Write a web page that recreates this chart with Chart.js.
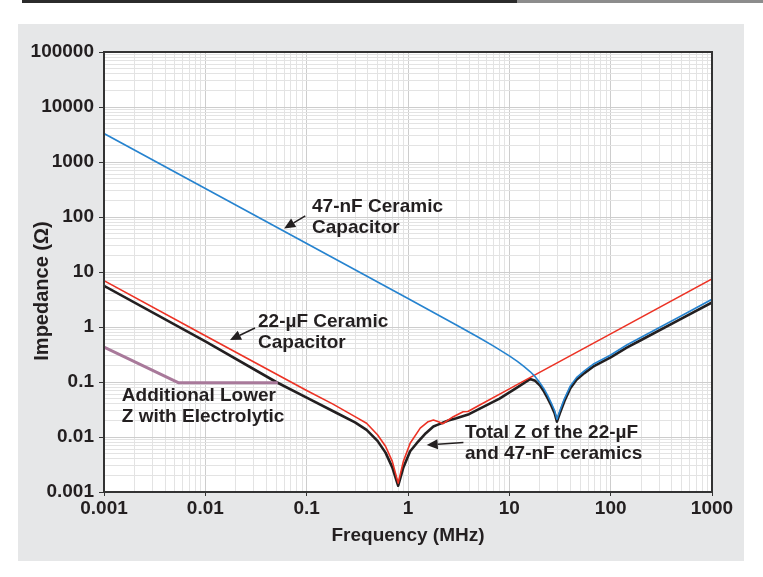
<!DOCTYPE html>
<html><head><meta charset="utf-8">
<script src="https://cdn.jsdelivr.net/npm/chart.js@4"></script>
<style>
html,body{margin:0;padding:0;background:#fff;width:763px;height:577px;overflow:hidden;font-family:"Liberation Sans",Arial,sans-serif}
#bar1{position:absolute;left:22px;top:0;width:495px;height:3px;background:#2b2b2b}
#bar2{position:absolute;left:517px;top:0;width:246px;height:3px;background:#8c8c8c}
#panel{position:absolute;left:18px;top:24px;width:726px;height:537px;background:#e6e7e8}
</style></head><body>
<div id="bar1"></div><div id="bar2"></div>
<div id="panel"><canvas id="c" width="726" height="537"></canvas></div>
<script>
// ---- data ----
const xTickLabels = ['0.001','0.01','0.1','1','10','100','1000'];
const yTickLabels = ['0.001','0.01','0.1','1','10','100','1000','10000','100000'];
const xTitle = 'Frequency (MHz)';
const yTitle = 'Impedance (\u03a9)';

const freq47nF = [0.001, 0.01, 0.1, 1, 3, 5, 7, 10, 12, 14, 16, 18, 20, 22, 24, 26, 28, 29.5, 31.5, 35, 40, 46, 55, 67, 100, 144, 200, 500, 1000];
const z47nF    = [3300, 330, 33, 3.3, 1.09, 0.645, 0.449, 0.298, 0.237, 0.19, 0.155, 0.125, 0.097, 0.075, 0.056, 0.041, 0.03, 0.021, 0.03, 0.05, 0.085, 0.12, 0.16, 0.21, 0.31, 0.47, 0.65, 1.6, 3.2];

const freq22uF = [0.001, 0.01, 0.1, 0.18, 0.3, 0.39, 0.5, 0.6, 0.7, 0.8, 0.9, 1.05, 1.32, 1.58, 1.78, 2.0, 2.2, 2.8, 3.5, 3.9, 5, 10, 17, 100, 1000];
const z22uF    = [6.95, 0.695, 0.07, 0.04, 0.0235, 0.0178, 0.011, 0.0068, 0.0036, 0.00145, 0.0036, 0.0077, 0.0145, 0.019, 0.0204, 0.019, 0.0174, 0.0234, 0.0288, 0.029, 0.0375, 0.075, 0.128, 0.75, 7.5];

const freqTotal = [0.001, 0.01, 0.05, 0.1, 0.2, 0.3, 0.39, 0.5, 0.6, 0.7, 0.8, 0.9, 1.05, 1.22, 1.5, 1.78, 1.95, 2.5, 3, 4, 8, 12, 16, 18, 20, 22, 24, 26, 28, 29.5, 31.5, 35, 40, 46, 55, 67, 100, 144, 200, 500, 1000];
const zTotal    = [5.6, 0.55, 0.1, 0.052, 0.027, 0.0185, 0.0135, 0.0085, 0.0052, 0.0028, 0.0013, 0.0028, 0.0055, 0.0077, 0.0117, 0.0155, 0.0166, 0.02, 0.022, 0.026, 0.05, 0.08, 0.113, 0.105, 0.087, 0.067, 0.05, 0.037, 0.027, 0.019, 0.027, 0.045, 0.077, 0.11, 0.145, 0.19, 0.28, 0.42, 0.58, 1.42, 2.8];

const freqElectrolytic = [0.001, 0.0054, 0.052];
const zElectrolytic    = [0.43, 0.097, 0.097];

const notes = [
  {lines:['47-nF Ceramic','Capacitor'], text:[0.113, 154], tail:[0.097, 105], tip:[0.06, 62]},
  {lines:['22-\u00b5F Ceramic','Capacitor'], text:[0.0331, 1.23], tail:[0.0309, 0.96], tip:[0.0175, 0.58]},
  {lines:['Additional Lower','Z with Electrolytic'], text:[0.0015, 0.0569]},
  {lines:['Total Z of the 22-\u00b5F','and 47-nF ceramics'], text:[3.65, 0.01183], tail:[3.52, 0.00794], tip:[1.53, 0.00716]}
];

// ---- helpers ----
const pts = (xs, ys) => xs.map((x, i) => ({x, y: ys[i]}));
const isDecade = v => Math.abs(Math.log10(v) - Math.round(Math.log10(v))) < 1e-6;
function logTicks(lo, hi) {
  return function(scale) {
    const t = [];
    for (let e = lo; e < hi; e++) for (let m = 1; m < 10; m++) t.push({value: m * Math.pow(10, e), major: m === 1});
    t.push({value: Math.pow(10, hi), major: true});
    scale.ticks = t;
  };
}
const TXT = '#231f20';
const FAM = '"Liberation Sans", Arial, sans-serif';
const gridOpts = (len) => ({
  color: c => (c.tick && isDecade(c.tick.value)) ? '#cdcdcd' : '#e3e3e3',
  tickColor: c => (c.tick && isDecade(c.tick.value)) ? '#333' : 'rgba(0,0,0,0)',
  lineWidth: 1, tickLength: len, drawTicks: true
});

const plotBg = {
  id: 'plotBg',
  beforeDraw(chart) {
    const {ctx, chartArea: a} = chart;
    ctx.save(); ctx.fillStyle = '#fff'; ctx.fillRect(a.left, a.top, a.right - a.left, a.bottom - a.top); ctx.restore();
  }
};
const frame = {
  id: 'frame',
  afterDatasetsDraw(chart) {
    const {ctx, chartArea: a} = chart;
    ctx.save(); ctx.strokeStyle = '#333'; ctx.lineWidth = 2;
    ctx.strokeRect(a.left, a.top, a.right - a.left, a.bottom - a.top); ctx.restore();
  }
};
const yTitlePlugin = {
  id: 'yTitlePlugin',
  afterDraw(chart) {
    const {ctx, chartArea: a} = chart;
    ctx.save();
    ctx.translate(24, (a.top + a.bottom) / 2 + 19);
    ctx.rotate(-Math.PI / 2);
    ctx.fillStyle = TXT; ctx.font = 'bold 20px ' + FAM;
    ctx.textAlign = 'center'; ctx.textBaseline = 'middle';
    ctx.fillText(yTitle, 0, 0);
    ctx.restore();
  }
};
const annot = {
  id: 'annot',
  afterDraw(chart) {
    const {ctx} = chart; const sx = chart.scales.x, sy = chart.scales.y;
    const P = d => [sx.getPixelForValue(d[0]), sy.getPixelForValue(d[1])];
    ctx.save();
    ctx.fillStyle = TXT; ctx.strokeStyle = TXT;
    ctx.font = 'bold 19px ' + FAM;
    ctx.textAlign = 'left'; ctx.textBaseline = 'middle';
    notes.forEach(n => {
      const [tx, ty] = P(n.text);
      n.lines.forEach((l, i) => ctx.fillText(l, tx, ty + i * 21));
      if (n.tip) {
        const [ax, ay] = P(n.tail), [bx, by] = P(n.tip);
        const ang = Math.atan2(by - ay, bx - ax);
        const hl = 11, hw = 5;
        const baseX = bx - hl * Math.cos(ang), baseY = by - hl * Math.sin(ang);
        ctx.lineWidth = 1.5;
        ctx.beginPath(); ctx.moveTo(ax, ay); ctx.lineTo(baseX, baseY); ctx.stroke();
        ctx.beginPath(); ctx.moveTo(bx, by);
        ctx.lineTo(baseX + hw * Math.sin(ang), baseY - hw * Math.cos(ang));
        ctx.lineTo(baseX - hw * Math.sin(ang), baseY + hw * Math.cos(ang));
        ctx.closePath(); ctx.fill();
      }
    });
    ctx.restore();
  }
};

const tickFont = {family: FAM, size: 19, weight: 'bold'};
const titleFont = {family: FAM, size: 19, weight: 'bold'};

new Chart(document.getElementById('c'), {
  type: 'line',
  data: {
    datasets: [
      {label: 'Additional Lower Z with Electrolytic', data: pts(freqElectrolytic, zElectrolytic), borderColor: '#a8799a', borderWidth: 3},
      {label: '47-nF Ceramic Capacitor', data: pts(freq47nF, z47nF), borderColor: '#2683cf', borderWidth: 1.6},
      {label: '22-\u00b5F Ceramic Capacitor', data: pts(freq22uF, z22uF), borderColor: '#ec3224', borderWidth: 1.6},
      {label: 'Total Z of the 22-\u00b5F and 47-nF ceramics', data: pts(freqTotal, zTotal), borderColor: '#231f20', borderWidth: 2.6}
    ]
  },
  options: {
    responsive: false, animation: false, devicePixelRatio: 1,
    elements: {point: {radius: 0}, line: {tension: 0, fill: false, borderJoinStyle: 'round'}},
    layout: {padding: {left: 0, top: 28, right: 32, bottom: 0}},
    plugins: {legend: {display: false}, tooltip: {enabled: false}},
    scales: {
      x: {
        type: 'logarithmic', min: 0.001, max: 1000,
        afterBuildTicks: logTicks(-3, 3),
        afterFit: s => { s.height = 69; },
        grid: gridOpts(4), border: {display: false},
        ticks: {autoSkip: false, maxRotation: 0, minRotation: 0, padding: 1, color: TXT, font: tickFont,
          callback: v => isDecade(v) ? xTickLabels[Math.round(Math.log10(v)) + 3] : ''},
        title: {display: true, text: xTitle, color: TXT, font: titleFont, padding: {top: 0, bottom: 14}}
      },
      y: {
        type: 'logarithmic', min: 0.001, max: 100000,
        afterBuildTicks: logTicks(-3, 5),
        afterFit: s => { s.width = 86; },
        grid: gridOpts(5), border: {display: false},
        ticks: {autoSkip: false, padding: 5, color: TXT, font: tickFont,
          callback: v => isDecade(v) ? yTickLabels[Math.round(Math.log10(v)) + 3] : ''},
        title: {display: false}
      }
    }
  },
  plugins: [plotBg, frame, annot, yTitlePlugin]
});
</script>
</body></html>
